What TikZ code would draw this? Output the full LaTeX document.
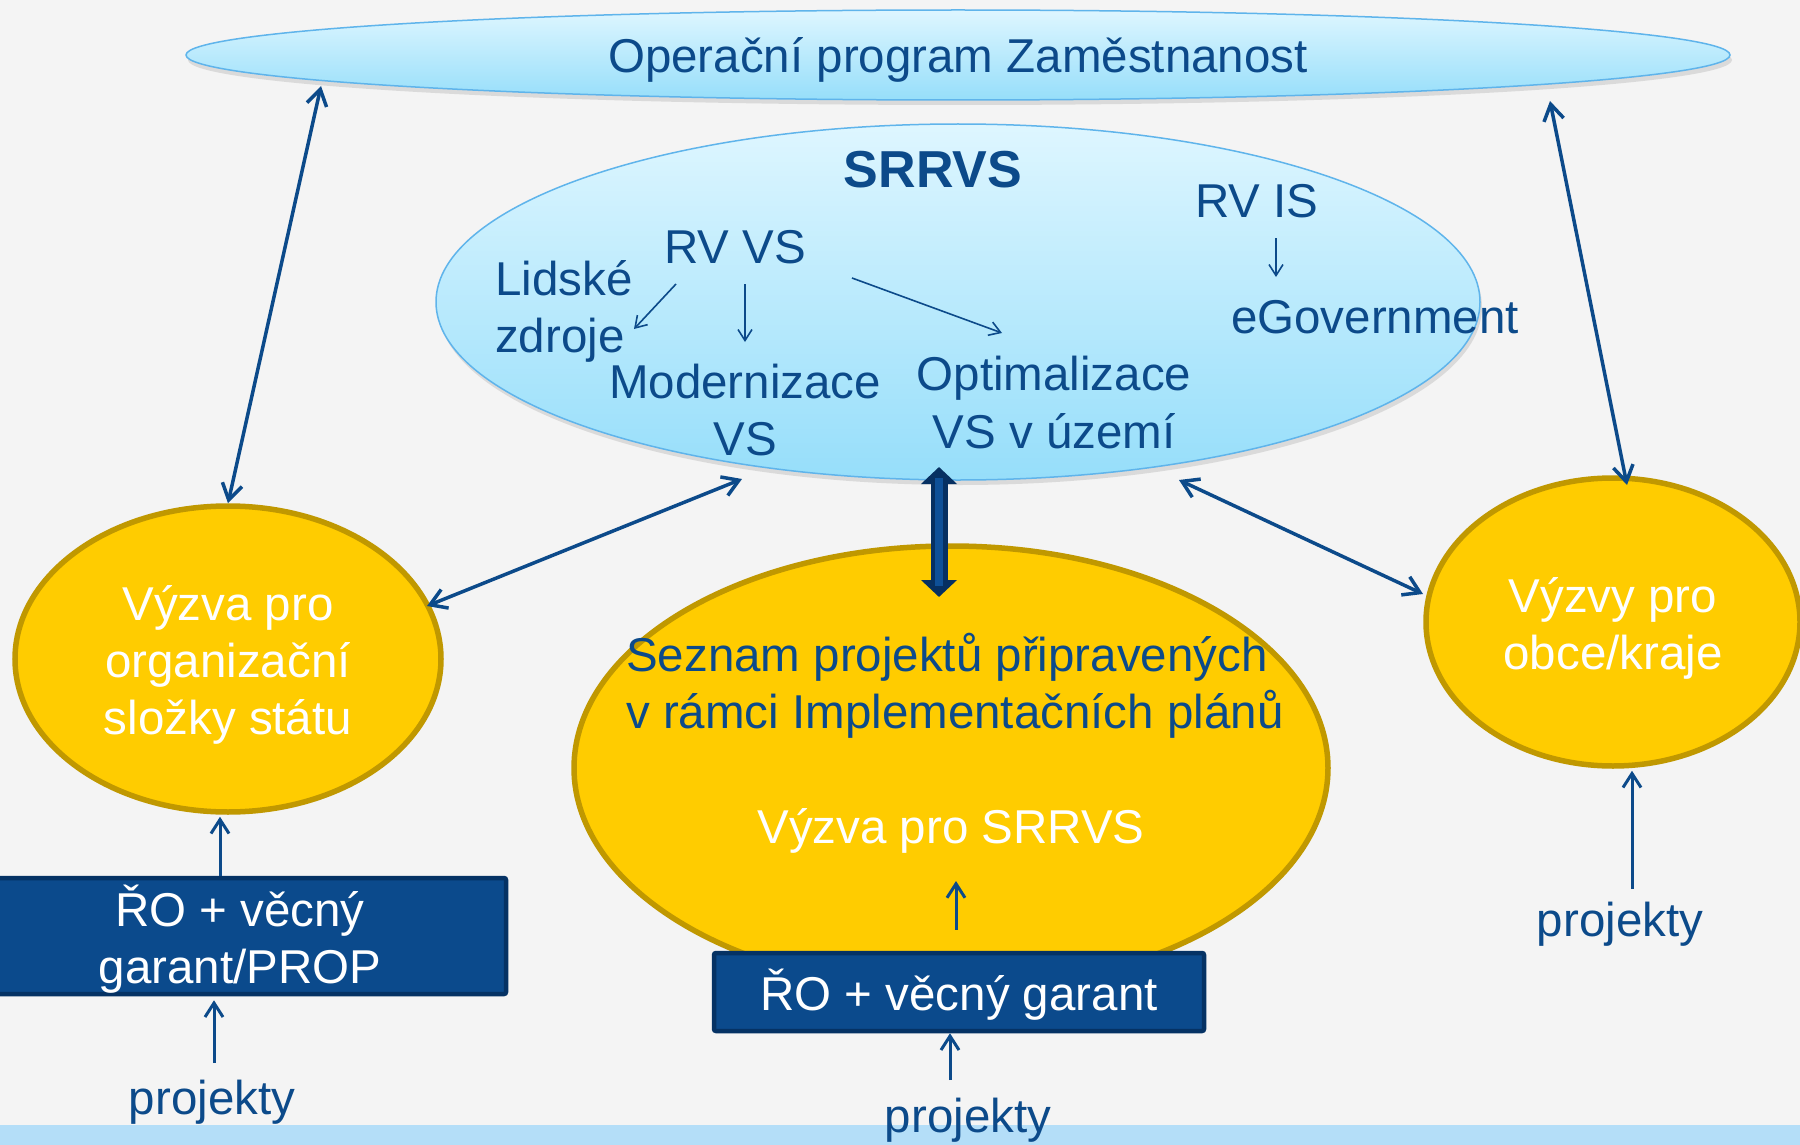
\documentclass[tikz,border=0pt]{standalone}
\usepackage{fontspec}
\setmainfont{Liberation Sans}
\usetikzlibrary{shapes.geometric, arrows.meta, shadows}

\definecolor{bg}{RGB}{244,244,244}
\definecolor{band}{RGB}{180,222,248}
\definecolor{navy}{RGB}{12,74,138}
\definecolor{boxfill}{RGB}{11,74,140}
\definecolor{boxline}{RGB}{5,50,100}
\definecolor{gold}{RGB}{255,204,0}
\definecolor{goldline}{RGB}{192,152,0}
\definecolor{skytop}{RGB}{222,246,255}
\definecolor{skybot}{RGB}{150,222,250}
\definecolor{skyline}{RGB}{95,180,235}
\definecolor{thickout}{RGB}{6,48,98}
\definecolor{thickin}{RGB}{14,80,152}

\begin{document}
\begin{tikzpicture}[x=1pt,y=-1pt,
  txt/.style={inner sep=0pt, text=navy, font=\fontsize{47.5}{57}\selectfont},
  wtxt/.style={txt, text=white, align=center},
  blueell/.style={ellipse, draw=skyline, line width=1.5pt, top color=skytop, bottom color=skybot,
      inner sep=0pt, drop shadow={opacity=0.22, shadow xshift=2pt, shadow yshift=-5pt}},
  goldell/.style={ellipse, draw=goldline, line width=5.5pt, fill=gold, inner sep=0pt},
  navybox/.style={rectangle, draw=boxline, line width=4.5pt, fill=boxfill, inner sep=0pt, rounded corners=2pt},
  link/.style={draw=navy, line width=3.5pt, {Straight Barb[length=16pt,width=20pt]}-{Straight Barb[length=16pt,width=20pt]}},
  thickarr/.style={draw=thickout, line width=17pt, {Triangle[length=17pt,width=35pt]}-{Triangle[length=17pt,width=35pt]}},
  thickin/.style={draw=thickin, line width=8pt},
  smallarr/.style={draw=navy, line width=1.6pt, -{Straight Barb[length=11pt,width=14pt]}},
  upar/.style={draw=navy, line width=3pt, -{Straight Barb[length=14pt,width=18pt]}}
]
\clip (0,0) rectangle (1800,1145);
\useasboundingbox (0,0) rectangle (1800,1145);
\fill[bg] (0,0) rectangle (1800,1145);
\fill[band] (0,1125) rectangle (1800,1145);

% ellipses
\node[blueell, minimum width=1544pt, minimum height=90pt] (op) at (958,55) {};
\node[blueell, minimum width=1044pt, minimum height=356pt] (srrvs) at (958,302) {};
\node[goldell, minimum width=426pt, minimum height=306pt] (left) at (228,659) {};
\node[goldell, minimum width=754pt, minimum height=444pt] (seznam) at (951,768) {};
\node[goldell, minimum width=374pt, minimum height=288pt] (right) at (1613,622) {};

% texts of ellipses
\node[txt, anchor=base] (optext) at (958,73) {Operační program Zaměstnanost};
\node[wtxt] (lefttext) at (228,665) {Výzva pro\\organizační\\složky státu};
\node[wtxt] (righttext) at (1613,628) {Výzvy pro\\obce/kraje};

% boxes
\node[navybox, minimum width=532pt, minimum height=116pt] (lbox) at (240,936) {};
\node[navybox, minimum width=490pt, minimum height=78pt] (cbox) at (959,992) {};
\node[wtxt] (ltext) at (240,939) {ŘO + věcný\\garant/PROP};
\node[wtxt] (ctext) at (959,995) {ŘO + věcný garant};

% SRRVS texts
\node[txt, anchor=base, font=\fontsize{52}{60}\selectfont\bfseries] (title) at (933,187) {SRRVS};
\node[txt, anchor=base] (rvvs) at (735,263) {RV VS};
\node[txt, anchor=base west] (lidske) at (495,295) {Lidské};
\node[txt, anchor=base west] (zdroje) at (495,352) {zdroje};
\node[txt, anchor=base] (modern) at (745,398) {Modernizace};
\node[txt, anchor=base] (modvs) at (745,455) {VS};
\node[txt, anchor=base] (optim) at (1054,390) {Optimalizace};
\node[txt, anchor=base] (optvs) at (1054,448) {VS v území};
\node[txt, anchor=base] (rvis) at (1257,218) {RV IS};
\node[txt, anchor=base] (egov) at (1375,333) {eGovernment};

% central ellipse texts
\node[txt, anchor=base west] (sez1) at (626,671) {Seznam projektů připravených};
\node[txt, anchor=base west] (sez2) at (626,728) {v rámci Implementačních plánů};
\node[wtxt, anchor=base] (vyzva) at (951,843) {Výzva pro SRRVS};

% projekty
\node[txt, anchor=base] (proj1) at (212,1114) {projekty};
\node[txt, anchor=base] (proj2) at (968,1132) {projekty};
\node[txt, anchor=base] (proj3) at (1620,936) {projekty};

% long links
\draw[link] ([shift={(-637,31)}]op.center) -- (left.north);
\draw[link] ([shift={(592,46)}]op.center) -- ([shift={(14,-137)}]right.center);
\draw[link] ([shift={(199,-53)}]left.center) -- ([shift={(-216,177)}]srrvs.center);
\draw[link] ([shift={(221,178)}]srrvs.center) -- ([shift={(-190,-28)}]right.center);

% thick arrow
\draw[thickarr] ([shift={(-19,165)}]srrvs.center) -- ([shift={(-12,-171)}]seznam.center);
\draw[thickin] ([shift={(-19,176)}]srrvs.center) -- ([shift={(-12,-182)}]seznam.center);

% small arrows inside SRRVS
\draw[smallarr] ([shift={(-59,21)}]rvvs.base) -- ([shift={(139,-23)}]zdroje.base west);
\draw[smallarr] ([shift={(10,21)}]rvvs.base) -- ([shift={(0,-56)}]modern.base);
\draw[smallarr] ([shift={(117,15)}]rvvs.base) -- ([shift={(-52,-57)}]optim.base);
\draw[smallarr] ([shift={(19,20)}]rvis.base) -- ([shift={(-99,-56)}]egov.base);

% upward arrows
\draw[upar, shorten >=2pt] ([xshift=-20pt]lbox.north) -- ([xshift=-8pt]left.south);
\draw[upar, shorten >=4pt] ([shift={(2,-51)}]proj1.base) -- ([xshift=-26pt]lbox.south);
\draw[upar] ([shift={(-3,-21)}]cbox.north) -- ([shift={(5,38)}]vyzva.base);
\draw[upar] ([shift={(-18,-52)}]proj2.base) -- ([xshift=-9pt]cbox.south);
\draw[upar, shorten >=2pt] ([shift={(12,-47)}]proj3.base) -- ([xshift=19pt]right.south);
\end{tikzpicture}
\end{document}
